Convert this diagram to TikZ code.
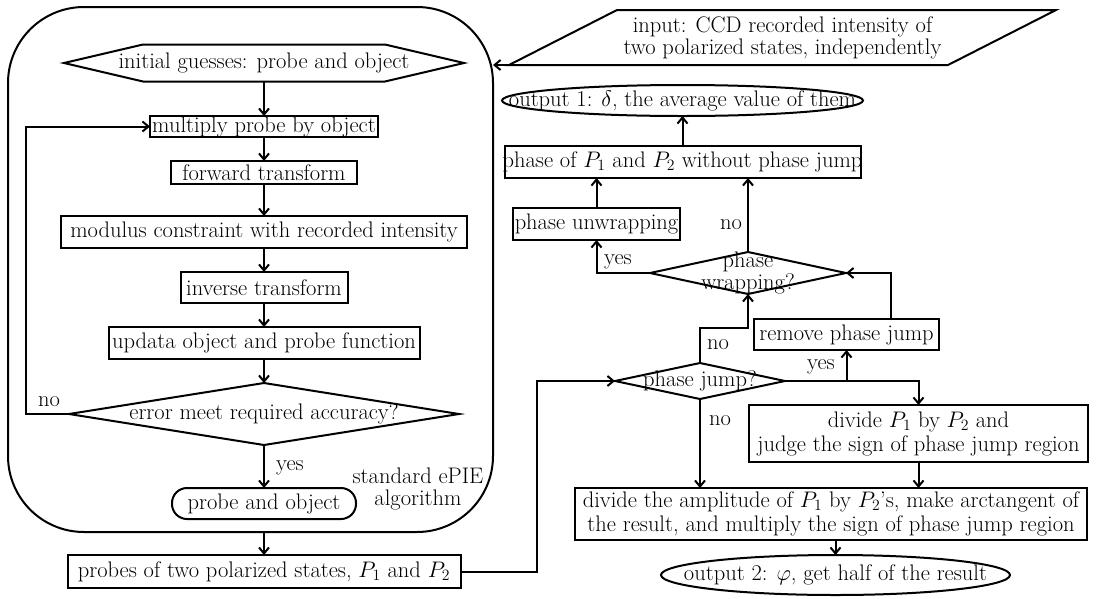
\RequirePackage{fix-cm}
\documentclass[tikz,border=0pt]{standalone}
\usepackage{fontspec}
\usepackage{tikz}
\usetikzlibrary{shapes.geometric,arrows.meta}
\begin{document}
\begin{tikzpicture}[x=1pt,y=-1pt, line width=2pt, font=\fontsize{22.5}{22}\selectfont,
  box/.style={draw, rectangle, inner sep=0pt, outer sep=0pt},
  ell/.style={draw, ellipse, inner sep=0pt, outer sep=0pt},
  dia/.style={draw, diamond, inner sep=0pt, outer sep=0pt},
  arr/.style={-{Straight Barb[length=6pt,width=10pt]}},
  lab/.style={inner sep=0pt}]
\useasboundingbox (0,0) rectangle (1096,598);

% ---- left: standard ePIE ----
\node[draw, rectangle, rounded corners=76pt, inner sep=0pt, outer sep=0pt,
      minimum width=485, minimum height=525] (epie) at (250.5,269.5) {};

\node[inner sep=0pt, outer sep=0pt, minimum width=400, minimum height=37,
      label=center:{initial guesses: probe and object}] (hex) at (264,63) {};
\draw (hex.west) -- ([xshift=79pt]hex.north west) -- ([xshift=-79pt]hex.north east)
      -- (hex.east) -- ([xshift=-79pt]hex.south east) -- ([xshift=79pt]hex.south west) -- cycle;

\node[box, minimum width=228, minimum height=21, label=center:{multiply probe by object}] (mul) at (264,126.5) {};
\node[box, minimum width=186, minimum height=23, label=center:{forward transform}] (fwd) at (264,172.5) {};
\node[box, minimum width=406, minimum height=32, label=center:{modulus constraint with recorded intensity}] (mod) at (264,232) {};
\node[box, minimum width=167, minimum height=31, label=center:{inverse transform}] (inv) at (264,287.5) {};
\node[box, minimum width=311, minimum height=32, label=center:{updata object and probe function}] (upd) at (264,343) {};
\node[dia, minimum width=390, minimum height=62, label=center:{error meet required accuracy?}] (err) at (264,414) {};
\node[box, rounded corners=15pt, minimum width=184, minimum height=31, label=center:{probe and object}] (pao) at (264,503.5) {};
\node[box, minimum width=393, minimum height=33, label=center:{probes of two polarized states, $P_1$ and $P_2$}] (prb) at (264,571.5) {};

\node[lab, align=center] (std) at (418,489) {standard ePIE\\algorithm};
\node[lab] (nol) at (49,402) {no};
\node[lab] (yesl) at (290,468) {yes};

\draw[arr] (hex.south) -- (mul.north);
\draw[arr] (mul) -- (fwd);
\draw[arr] (fwd) -- (mod);
\draw[arr] (mod) -- (inv);
\draw[arr] (inv) -- (upd);
\draw[arr] (upd) -- (err);
\draw[arr] (err.west) -- ++(-43,0) |- (mul.west);
\draw[arr] (err.south) -- (pao.north);
\draw[arr] (prb.north |- epie.south) -- (prb.north);

% ---- right ----
\node[inner sep=0pt, outer sep=0pt, minimum width=439, minimum height=55, align=center,
      label={[align=center]center:{input: CCD recorded intensity of\\two polarized states, independently}}] (inp) at (782.5,37.5) {};
\draw ([xshift=-54pt]inp.south west) -- ([xshift=54pt]inp.north west) -- ([xshift=54pt]inp.north east)
      -- ([xshift=-54pt]inp.south east) -- cycle;
\coordinate (inc) at ([xshift=-54pt]inp.south west);
\draw[arr] (inc) -- (inc -| epie.east);

\node[ell, minimum width=361, minimum height=31, label=center:{output 1: $\delta$, the average value of them}] (o1) at (682.5,100.5) {};
\node[box, minimum width=356, minimum height=32, label=center:{phase of $P_1$ and $P_2$ without phase jump}] (pof) at (682.5,162) {};
\node[box, minimum width=167, minimum height=32, label=center:{phase unwrapping}] (unw) at (596.5,224) {};
\node[dia, minimum width=196, minimum height=42,
      label={[align=center, font=\fontsize{22.5}{16}\selectfont]center:{phase\\wrapping?}}] (pw) at (748,273) {};
\node[box, minimum width=185, minimum height=31, label=center:{remove phase jump}] (rpj) at (846.5,334.5) {};
\node[dia, minimum width=170, minimum height=36, label=center:{phase jump?}] (pj) at (700,381) {};
\node[box, minimum width=339, minimum height=57,
      label={[align=center, font=\fontsize{22.5}{24}\selectfont]center:{divide $P_1$ by $P_2$ and\\judge the sign of phase jump region}}] (div) at (918.5,433.5) {};
\node[box, minimum width=512, minimum height=52,
      label={[align=center, font=\fontsize{22.5}{24}\selectfont]center:{divide the amplitude of $P_1$ by $P_2$'s, make arctangent of\\the result, and multiply the sign of phase jump region}}] (amp) at (831,514) {};
\node[ell, minimum width=349, minimum height=40, label=center:{output 2: $\varphi$, get half of the result}] (o2) at (835.5,575) {};

\node[lab] (no1) at (731,225) {no};
\node[lab] (yes1) at (618,262) {yes};
\node[lab] (no2) at (718,345) {no};
\node[lab] (yes2) at (821,367) {yes};
\node[lab] (no3) at (720,421) {no};

\coordinate (nj) at (748,328);
\draw[arr] (prb.east) -- (537,571.5) |- (pj.west);
\draw[arr] (pj.north) |- (nj) -- (pw.south);
\draw[arr] (pj.east) -| (div.north);
\draw[arr] (rpj.south |- pj.east) -- (rpj.south);
\draw[arr] ([xshift=44.5pt]rpj.north) |- (pw.east);
\draw[arr] (pw.west) -| (unw.south);
\draw[arr] (pw.north) -- (pw.north |- pof.south);
\draw[arr] (unw.north) -- (unw.north |- pof.south);
\draw[arr] (pof.north) -- (o1.south);
\draw[arr] (pj.south) -- (pj.south |- amp.north);
\draw[arr] (div.south) -- (div.south |- amp.north);
\draw[arr] (o2.north |- amp.south) -- (o2.north);
\end{tikzpicture}
\end{document}
